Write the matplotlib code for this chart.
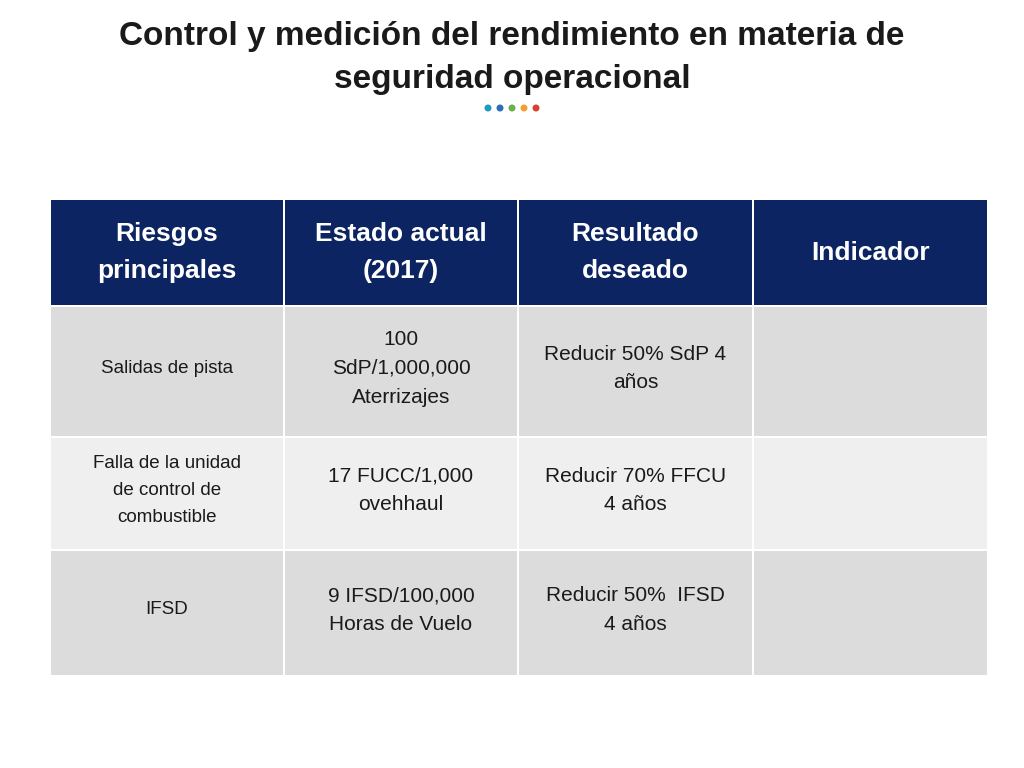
import matplotlib.pyplot as plt
from matplotlib.patches import Rectangle

titulo = "Control y medición del rendimiento en materia de\nseguridad operacional"
encabezados = ["Riesgos\nprincipales", "Estado actual\n(2017)", "Resultado\ndeseado", "Indicador"]
riesgos = ["Salidas de pista", "Falla de la unidad\nde control de\ncombustible", "IFSD"]
estado_actual = ["100\nSdP/1,000,000\nAterrizajes", "17 FUCC/1,000\novehhaul", "9 IFSD/100,000\nHoras de Vuelo"]
resultado = ["Reducir 50% SdP 4\naños", "Reducir 70% FFCU\n4 años", "Reducir 50%  IFSD\n4 años"]
indicador = ["", "", ""]

plt.rcParams["font.family"] = "Liberation Sans"
fig = plt.figure(figsize=(10.24, 7.68), dpi=100)
ax = fig.add_axes([0, 0, 1, 1])
ax.set_xlim(0, 1024)
ax.set_ylim(768, 0)
ax.axis("off")

ax.text(512, 58, titulo, ha="center", va="center", fontsize=24, fontweight="bold",
        color="#1a1a1a", linespacing=1.5)
for i, c in enumerate(["#1f9bc4", "#2a6fb8", "#6ab04c", "#f0a030", "#d9432f"]):
    ax.add_patch(plt.Circle((488 + 12 * i, 108), 2.8, color=c))

# columnas y filas en pixeles
xs = [50, 284, 518, 753, 988]
filas = [(200, 305), (307, 436), (438, 549), (551, 675)]
colores = ["#0c2461", "#dcdcdc", "#efefef", "#dcdcdc"]
columnas = [riesgos, estado_actual, resultado, indicador]

for r, (y0, y1) in enumerate(filas):
    for c in range(4):
        x0, x1 = xs[c] + 1, xs[c + 1] - 1
        ax.add_patch(Rectangle((x0, y0), x1 - x0, y1 - y0, color=colores[r], lw=0))
        if r == 0:
            ax.text((x0 + x1) / 2, (y0 + y1) / 2, encabezados[c], ha="center", va="center",
                    fontsize=19, fontweight="bold", color="white", linespacing=1.65)
        else:
            ax.text((x0 + x1) / 2, (y0 + y1) / 2 - 3, columnas[c][r - 1], ha="center",
                    va="center", fontsize=13.5 if c == 0 else 15, color="#1a1a1a",
                    linespacing=1.75 if c == 0 else 1.65)

fig.savefig("out.png", dpi=100)
